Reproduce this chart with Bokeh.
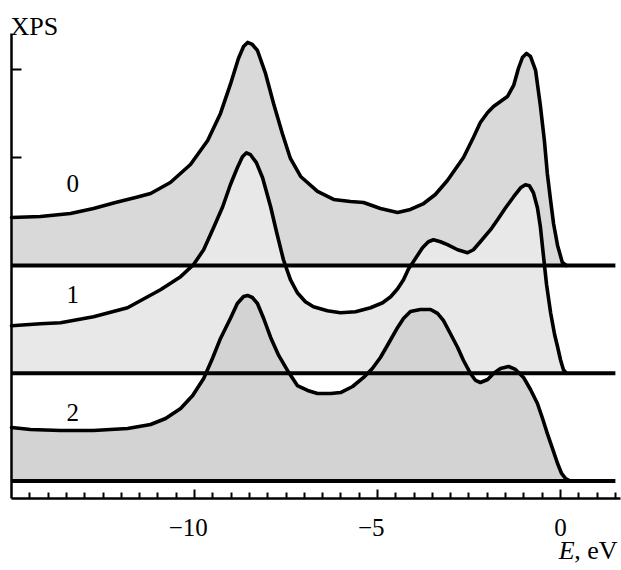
from bokeh.plotting import figure
from bokeh.models import Range1d, FixedTicker, Label, CustomJSTickFormatter
from bokeh.core.properties import value
from bokeh.embed import file_html
from bokeh.resources import INLINE

# ---- data ----
# spectrum 0 (top)
energy0 = [-15.00, -14.21, -13.39, -12.76, -12.16, -11.61, -11.20, -10.66, -10.11, -9.64,
           -9.29, -9.02, -8.80, -8.66, -8.55, -8.42, -8.28, -8.06, -7.84, -7.60,
           -7.38, -7.10, -6.64, -6.20, -5.74, -5.38, -4.92, -4.45, -4.10, -3.74,
           -3.42, -3.09, -2.65, -2.38, -2.19, -1.99, -1.83, -1.64, -1.45, -1.28,
           -1.15, -1.04, -0.93, -0.82, -0.68, -0.55, -0.44, -0.36, -0.27, -0.19,
           -0.08, 0.05, 0.16]
xps0 = [0.445, 0.455, 0.483, 0.529, 0.585, 0.631, 0.668, 0.770, 0.937, 1.160,
        1.411, 1.680, 1.921, 2.032, 2.070, 2.051, 1.995, 1.782, 1.503, 1.225,
        0.993, 0.826, 0.687, 0.613, 0.594, 0.585, 0.529, 0.492, 0.520, 0.575,
        0.659, 0.789, 1.002, 1.188, 1.327, 1.420, 1.476, 1.522, 1.568, 1.671,
        1.828, 1.930, 1.968, 1.940, 1.810, 1.485, 1.160, 0.854, 0.603, 0.390,
        0.186, 0.028, 0.0]

# spectrum 1 (middle)
energy1 = [-15.00, -14.21, -13.66, -12.76, -11.83, -10.93, -10.38, -10.03, -9.75, -9.48,
           -9.23, -9.02, -8.83, -8.69, -8.58, -8.47, -8.31, -8.14, -7.92, -7.76,
           -7.57, -7.38, -7.19, -6.97, -6.75, -6.37, -6.01, -5.60, -5.19, -4.86,
           -4.64, -4.45, -4.29, -4.15, -4.02, -3.77, -3.61, -3.47, -3.28, -3.09,
           -2.81, -2.54, -2.38, -2.19, -1.91, -1.72, -1.50, -1.28, -1.09, -0.96,
           -0.85, -0.74, -0.63, -0.55, -0.46, -0.38, -0.27, -0.16, -0.08, 0.00,
           0.08, 0.16]
xps1 = [0.441, 0.459, 0.469, 0.524, 0.608, 0.775, 0.896, 1.007, 1.146, 1.350,
        1.545, 1.749, 1.907, 2.009, 2.046, 2.028, 1.954, 1.814, 1.545, 1.313,
        1.053, 0.868, 0.747, 0.664, 0.617, 0.580, 0.561, 0.571, 0.608, 0.654,
        0.710, 0.784, 0.868, 0.970, 1.035, 1.165, 1.220, 1.239, 1.220, 1.193,
        1.146, 1.118, 1.146, 1.220, 1.332, 1.425, 1.536, 1.638, 1.721, 1.749,
        1.740, 1.675, 1.536, 1.360, 1.072, 0.821, 0.561, 0.357, 0.246, 0.125,
        0.032, 0.0]

# spectrum 2 (bottom)
energy2 = [-15.00, -14.48, -13.66, -12.76, -11.83, -11.20, -10.79, -10.38, -10.05, -9.75,
           -9.51, -9.29, -9.02, -8.83, -8.66, -8.55, -8.42, -8.28, -8.11, -7.92,
           -7.70, -7.46, -7.19, -6.91, -6.64, -6.28, -6.01, -5.68, -5.38, -5.14,
           -4.92, -4.70, -4.45, -4.29, -4.10, -3.83, -3.55, -3.36, -3.20, -3.01,
           -2.81, -2.65, -2.46, -2.32, -2.19, -1.99, -1.83, -1.64, -1.42, -1.23,
           -1.01, -0.82, -0.63, -0.49, -0.36, -0.22, -0.08, 0.03, 0.14, 0.27]
xps2 = [0.497, 0.478, 0.469, 0.469, 0.487, 0.524, 0.580, 0.673, 0.794, 0.951,
        1.137, 1.323, 1.508, 1.647, 1.712, 1.722, 1.703, 1.647, 1.508, 1.332,
        1.165, 1.026, 0.886, 0.840, 0.812, 0.812, 0.821, 0.877, 0.961, 1.044,
        1.146, 1.276, 1.425, 1.508, 1.573, 1.592, 1.592, 1.555, 1.490, 1.369,
        1.239, 1.118, 0.998, 0.933, 0.914, 0.942, 0.998, 1.044, 1.063, 1.035,
        0.961, 0.849, 0.719, 0.580, 0.441, 0.302, 0.162, 0.070, 0.023, 0.0]

offsets = [2.0, 1.0, 0.0]          # vertical shift of each spectrum
curve_labels = ["0", "1", "2"]
label_energy = -13.33
label_height = [0.76, 0.73, 0.64]  # label height above each baseline
baseline_end = 1.5
x_axis_range = (-15.0, 1.64)
y_axis_range = (-0.1624, 4.153)
x_major = [-10, -5, 0]
x_tick_labels = {-10: "\u221210\u2002", -5: "\u22125\u2002", 0: "0"}
y_ticks = [3.0, 3.82]
fills = ["#d9d9d9", "#e8e8e8", "#d3d3d3"]

# ---- figure ----
FONT = "'Liberation Serif', 'Times New Roman', 'DejaVu Serif', serif"
p = figure(width=621, height=570, output_backend="svg", toolbar_location=None,
           x_range=Range1d(-15.301, 1.667), y_range=Range1d(-0.8306, 4.459),
           min_border_left=0, min_border_right=0, min_border_top=0,
           min_border_bottom=0)
p.title.visible = False
p.outline_line_color = None
p.xgrid.visible = False
p.ygrid.visible = False
p.background_fill_color = "white"
p.border_fill_color = "white"

energies = [energy0, energy1, energy2]
values = [xps0, xps1, xps2]

for e, v, off, col in zip(energies, values, offsets, fills):
    p.varea(x=e, y1=[off] * len(e), y2=[off + a for a in v], fill_color=col)

for e, v, off in zip(energies, values, offsets):
    p.line(x=[e[0], baseline_end], y=[off, off], line_color="black", line_width=4)
    p.line(x=e, y=[off + a for a in v], line_color="black", line_width=3.6,
           line_join="round", line_cap="round")

p.text(x=[label_energy] * 3, y=[o + h for o, h in zip(offsets, label_height)],
       text=curve_labels, text_font=value(FONT), text_font_size="25px",
       text_align="center", text_baseline="middle", text_color="black")

# x axis (drawn inside the frame at the bottom of the data area)
minor = [round(-14.5 + 0.5 * k, 2) for k in range(33)]
minor = [m for m in minor if m not in x_major]
xa = p.xaxis[0]
xa.fixed_location = y_axis_range[0]
xa.bounds = x_axis_range
xa.ticker = FixedTicker(ticks=x_major, minor_ticks=minor)
xa.major_label_overrides = x_tick_labels
xa.major_label_text_font = FONT
xa.major_label_text_font_size = "25px"
xa.major_label_text_color = "black"
xa.major_label_standoff = 16
xa.major_tick_in = 9
xa.major_tick_out = 0
xa.minor_tick_in = 6
xa.minor_tick_out = 0
xa.axis_line_width = 2.5
xa.major_tick_line_width = 2
xa.minor_tick_line_width = 2
xa.axis_line_color = "black"
xa.major_tick_line_color = "black"
xa.minor_tick_line_color = "black"

# y axis
ya = p.yaxis[0]
ya.fixed_location = x_axis_range[0]
ya.bounds = y_axis_range
ya.ticker = FixedTicker(ticks=y_ticks, minor_ticks=[])
ya.formatter = CustomJSTickFormatter(code="return ''")
ya.major_label_standoff = 0
ya.major_tick_in = 10
ya.major_tick_out = 0
ya.minor_tick_in = 0
ya.minor_tick_out = 0
ya.axis_line_width = 2.5
ya.major_tick_line_width = 2
ya.axis_line_color = "black"
ya.major_tick_line_color = "black"

# axis titles
p.add_layout(Label(x=x_axis_range[0], y=4.218, x_offset=-1, text="XPS",
                   text_font=FONT, text_font_size="26px", text_align="left",
                   text_baseline="alphabetic", text_color="black"))
p.add_layout(Label(x=x_axis_range[1], y=-0.78, x_offset=-3, text=", eV",
                   text_font=FONT, text_font_size="26px", text_align="right",
                   text_baseline="bottom", text_color="black"))
p.add_layout(Label(x=x_axis_range[1], y=-0.78, x_offset=-46, text="E",
                   text_font=FONT, text_font_size="26px",
                   text_font_style="italic", text_align="right",
                   text_baseline="bottom", text_color="black"))

open("out.html", "w").write(file_html(p, INLINE))
